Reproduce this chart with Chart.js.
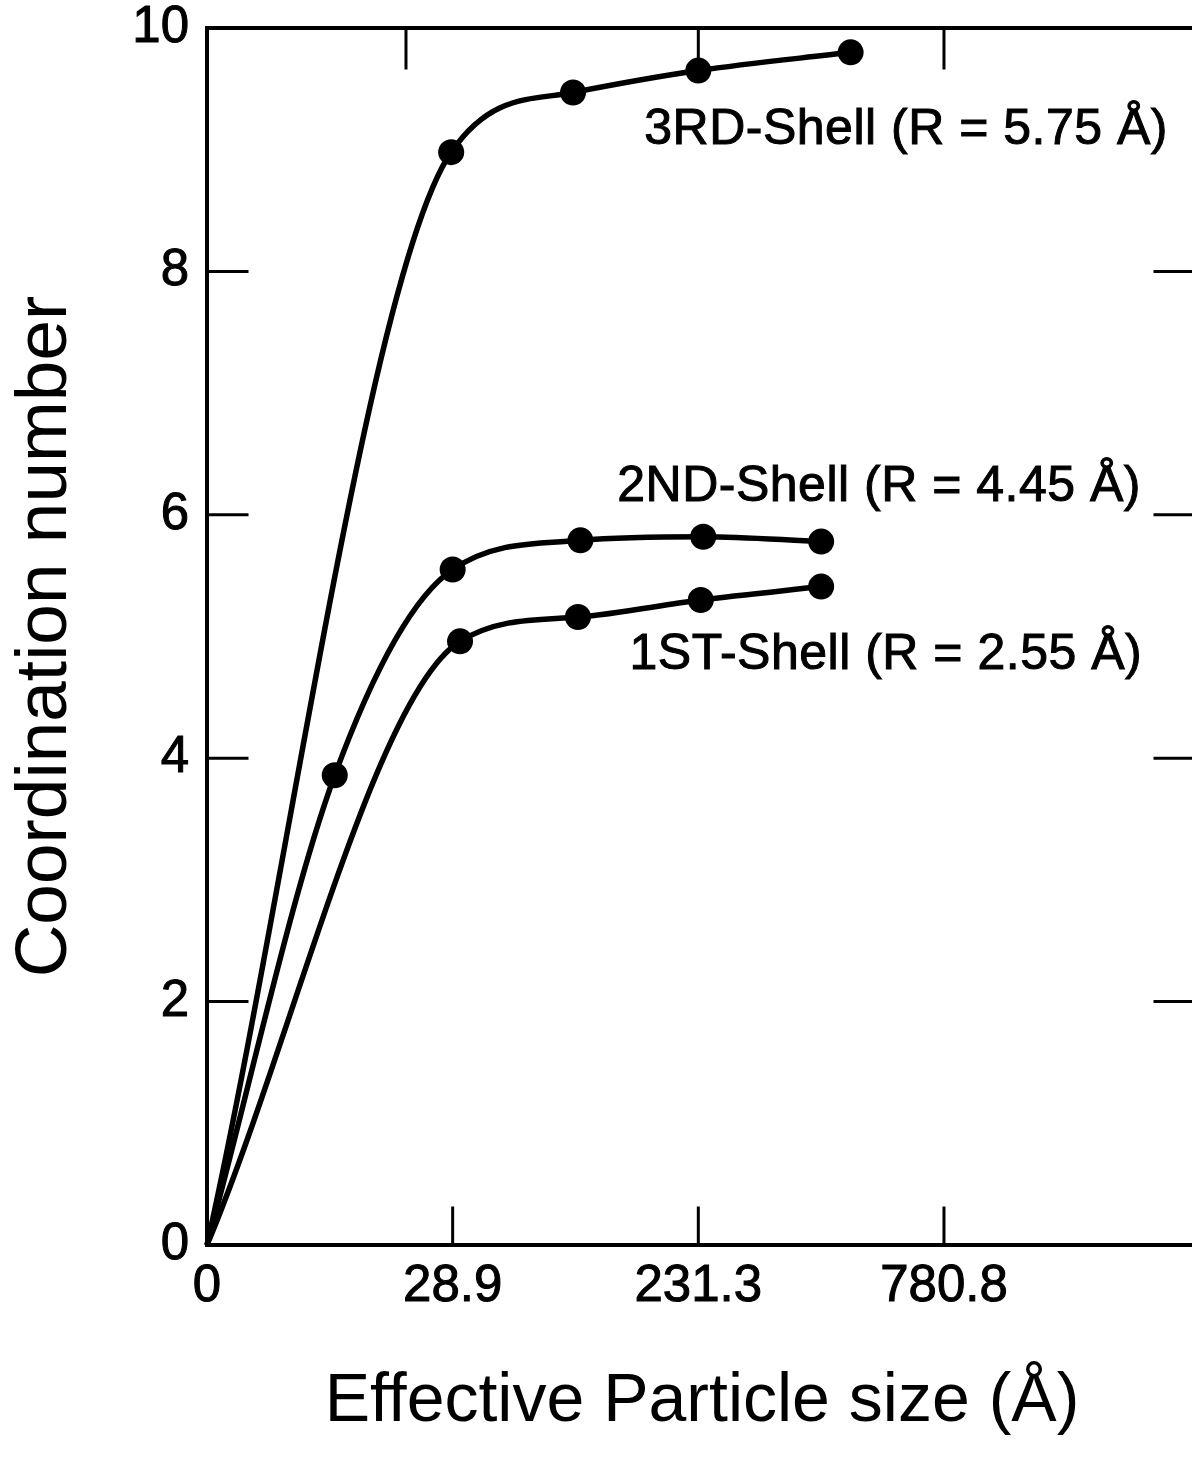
<!DOCTYPE html>
<html>
<head>
<meta charset="utf-8">
<title>Coordination number vs effective particle size</title>
<script src="https://cdn.jsdelivr.net/npm/chart.js@4.4.1/dist/chart.umd.min.js"></script>
<style>
  html, body { margin: 0; padding: 0; background: #fff; overflow: hidden; }
  canvas { display: block; }
</style>
</head>
<body>
<canvas id="chart" width="1210" height="1461"></canvas>
<script>
// x positions are evenly spaced, labelled with the particle size they stand for
const xTickValues = [0, 1, 2, 3];
const xTickLabels = ['0', '28.9', '231.3', '780.8'];
const topTickValues = [0.81, 2, 3];
const yTickValues = [0, 2, 4, 6, 8, 10];

const shell1X = [0, 1.03, 1.51, 2.01, 2.5];
const shell1Y = [0, 4.96, 5.16, 5.30, 5.41];
const shell2X = [0, 0.52, 1.0, 1.52, 2.02, 2.5];
const shell2Y = [0, 3.86, 5.55, 5.79, 5.82, 5.78];
const shell3X = [0, 0.994, 1.49, 2.0, 2.62];
const shell3Y = [0, 8.98, 9.47, 9.65, 9.80];

const FONT = '"Liberation Sans", Arial, Helvetica, sans-serif';

const toPoints = (xs, ys) => xs.map((x, i) => ({ x, y: ys[i] }));
// every curve starts from the origin, which has no dot
const markerRadius = (xs) => xs.map((x) => (x === 0 ? 0 : 13));

const shellDataset = (xs, ys) => ({
  data: toPoints(xs, ys),
  borderColor: '#000',
  backgroundColor: '#000',
  borderWidth: 5.5,
  pointRadius: markerRadius(xs),
  pointHoverRadius: markerRadius(xs),
  pointBorderWidth: 0,
  pointBackgroundColor: '#000',
  cubicInterpolationMode: 'monotone',
  clip: false,
});

// box round the plot plus the short inward tick marks
const frameTicks = {
  id: 'frameTicks',
  beforeDatasetsDraw(chart) {
    const { ctx, chartArea: a, scales: { x, y } } = chart;
    ctx.save();
    ctx.strokeStyle = '#000';
    ctx.lineCap = 'square';
    ctx.lineWidth = 4;
    ctx.strokeRect(a.left, a.top, a.right - a.left, a.bottom - a.top);

    ctx.lineWidth = 3;
    ctx.beginPath();
    yTickValues.slice(1, -1).forEach((v) => {
      const py = y.getPixelForValue(v);
      ctx.moveTo(a.left, py); ctx.lineTo(a.left + 40, py);
      ctx.moveTo(a.right, py); ctx.lineTo(a.right - 42, py);
    });
    xTickValues.slice(1).forEach((v) => {
      const px = x.getPixelForValue(v);
      ctx.moveTo(px, a.bottom); ctx.lineTo(px, a.bottom - 37);
    });
    topTickValues.forEach((v) => {
      const px = x.getPixelForValue(v);
      ctx.moveTo(px, a.top); ctx.lineTo(px, a.top + 40);
    });
    ctx.stroke();
    ctx.restore();
  },
};

const shellLabels = {
  id: 'shellLabels',
  afterDatasetsDraw(chart, args, opts) {
    const { ctx, scales: { x, y } } = chart;
    ctx.save();
    ctx.font = `50px ${FONT}`;
    ctx.letterSpacing = '0.5px';
    ctx.fillStyle = '#000';
    ctx.strokeStyle = '#000';
    ctx.lineWidth = 1;
    ctx.textBaseline = 'middle';
    opts.items.forEach((it) => {
      const px = x.getPixelForValue(it.x);
      const py = y.getPixelForValue(it.y);
      ctx.fillText(it.text, px, py);
      ctx.strokeText(it.text, px, py);
    });
    ctx.restore();
  },
};

const tickFont = { family: FONT, size: 51 };

new Chart(document.getElementById('chart'), {
  type: 'line',
  data: {
    datasets: [
      shellDataset(shell3X, shell3Y),
      shellDataset(shell2X, shell2Y),
      shellDataset(shell1X, shell1Y),
    ],
  },
  options: {
    responsive: false,
    animation: false,
    devicePixelRatio: 1,
    layout: { padding: { top: 28, right: 10, left: 0, bottom: 0 } },
    plugins: {
      legend: { display: false },
      tooltip: { enabled: false },
      shellLabels: {
        items: [
          { text: '3RD-Shell (R = 5.75 Å)', x: 1.78, y: 9.16 },
          { text: '2ND-Shell (R = 4.45 Å)', x: 1.67, y: 6.23 },
          { text: '1ST-Shell (R = 2.55 Å)', x: 1.72, y: 4.85 },
        ],
      },
    },
    scales: {
      x: {
        type: 'linear',
        min: 0,
        max: 4.03,
        afterBuildTicks: (s) => { s.ticks = xTickValues.map((v) => ({ value: v })); },
        afterFit: (s) => { s.height = 216; },
        grid: { display: false, drawTicks: false },
        border: { display: false },
        ticks: {
          color: '#000',
          font: tickFont,
          textStrokeColor: '#000',
          textStrokeWidth: 1,
          padding: 11,
          maxRotation: 0,
          autoSkip: false,
          callback: (v, i) => xTickLabels[i],
        },
        title: {
          display: true,
          text: 'Effective Particle size (Å)',
          color: '#000',
          font: { family: FONT, size: 68 },
          padding: { top: 0, bottom: 18 },
        },
      },
      y: {
        min: 0,
        max: 10,
        afterBuildTicks: (s) => { s.ticks = yTickValues.map((v) => ({ value: v })); },
        afterFit: (s) => {
          s.width = 207;
          s.paddingTop = 0;
          s.paddingBottom = 0;
        },
        grid: { display: false, drawTicks: false },
        border: { display: false },
        ticks: {
          color: '#000',
          font: tickFont,
          textStrokeColor: '#000',
          textStrokeWidth: 1,
          padding: 18,
          callback: (v) => String(v),
        },
        title: {
          display: true,
          text: 'Coordination number',
          color: '#000',
          font: { family: FONT, size: 73 },
          padding: { top: 2, bottom: 0 },
        },
      },
    },
  },
  plugins: [frameTicks, shellLabels],
});
</script>
</body>
</html>
